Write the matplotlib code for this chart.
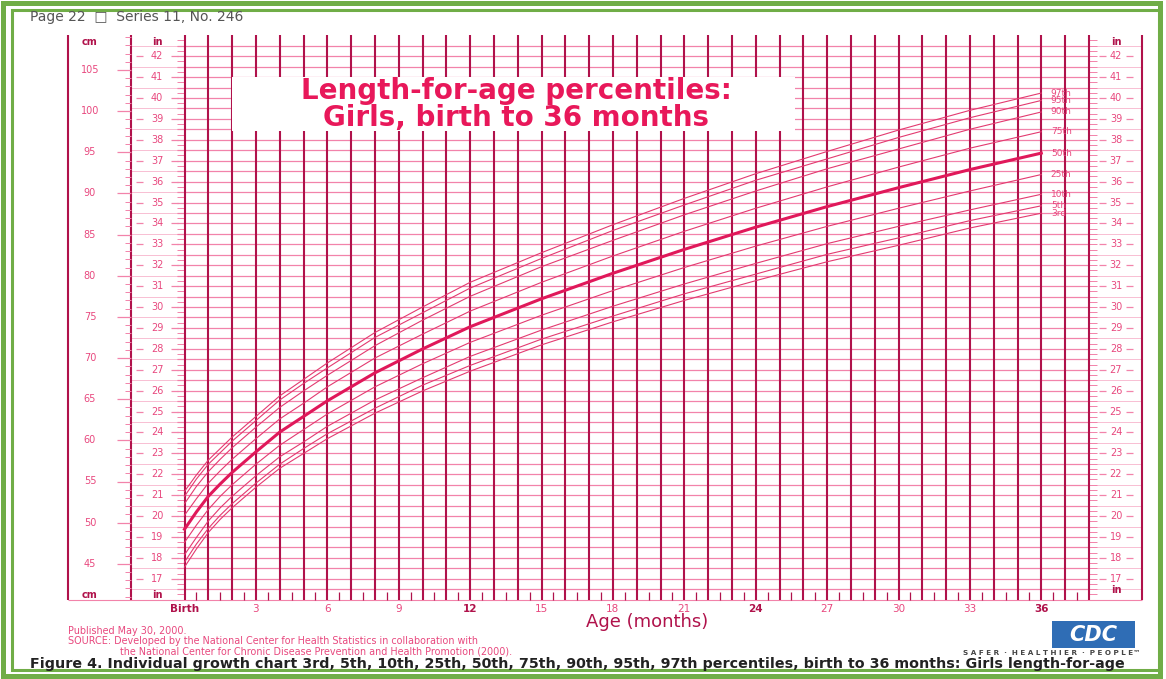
#!/usr/bin/env python3
# Length-for-age percentiles: Girls, birth to 36 months
import numpy as np
import matplotlib.pyplot as plt
from matplotlib.patches import Rectangle

# ages (months) and percentile curves (cm)
months = [0, 0.5, 1, 1.5, 2, 3, 4, 5, 6, 8, 10, 12, 15, 18, 21, 24, 27, 30, 33, 36]
p3 = [44.6, 46.8, 48.8, 50.4, 51.8, 54.3, 56.6, 58.4, 60.2, 63.3, 66.0, 68.4, 71.6, 74.4, 77.0, 79.4, 81.7, 83.7, 85.8, 87.6]
p5 = [45.2, 47.4, 49.3, 50.9, 52.3, 54.8, 57.1, 59.0, 60.8, 63.9, 66.7, 69.1, 72.3, 75.1, 77.8, 80.2, 82.6, 84.6, 86.7, 88.5]
p10 = [46.1, 48.2, 50.2, 51.8, 53.2, 55.7, 58.0, 59.8, 61.7, 64.9, 67.6, 70.2, 73.4, 76.3, 79.0, 81.5, 83.9, 86.0, 88.0, 89.9]
p25 = [47.6, 49.7, 51.6, 53.2, 54.6, 57.1, 59.4, 61.3, 63.2, 66.5, 69.3, 71.9, 75.2, 78.2, 81.0, 83.6, 86.0, 88.2, 90.3, 92.3]
p50 = [49.2, 51.3, 53.2, 54.7, 56.1, 58.6, 61.0, 62.9, 64.8, 68.2, 71.1, 73.8, 77.2, 80.3, 83.2, 85.9, 88.4, 90.7, 92.9, 94.9]
p75 = [50.9, 52.9, 54.8, 56.3, 57.7, 60.2, 62.6, 64.5, 66.5, 70.0, 72.9, 75.7, 79.2, 82.4, 85.4, 88.2, 90.8, 93.2, 95.5, 97.5]
p90 = [52.3, 54.4, 56.2, 57.7, 59.1, 61.6, 64.0, 66.0, 67.9, 71.5, 74.6, 77.5, 81.1, 84.3, 87.4, 90.3, 93.0, 95.4, 97.8, 99.9]
p95 = [53.2, 55.3, 57.1, 58.5, 59.9, 62.4, 64.9, 66.9, 68.8, 72.5, 75.5, 78.5, 82.1, 85.5, 88.6, 91.6, 94.2, 96.8, 99.2, 101.3]
p97 = [53.8, 55.8, 57.6, 59.0, 60.4, 62.9, 65.4, 67.4, 69.4, 73.1, 76.2, 79.2, 82.8, 86.2, 89.4, 92.4, 95.1, 97.7, 100.1, 102.2]

curves = [p3, p5, p10, p25, p50, p75, p90, p95, p97]
curve_names = ["3rd", "5th", "10th", "25th", "50th", "75th", "90th", "95th", "97th"]

month_ticks = [0, 3, 6, 9, 12, 15, 18, 21, 24, 27, 30, 33, 36]
month_labels = ["Birth", "3", "6", "9", "12", "15", "18", "21", "24", "27", "30", "33", "36"]
cm_labels = [45, 50, 55, 60, 65, 70, 75, 80, 85, 90, 95, 100, 105]
in_labels = list(range(17, 43))

VCOL = "#b0124b"
HCOL = "#f283aa"
CURVE = "#e33a70"
LAB = "#e8487e"
GREEN = "#70ad47"

W, H = 1166, 679
fig = plt.figure(figsize=(W / 100, H / 100), dpi=100)
ax = fig.add_axes([0, 0, 1, 1])


def mx(px):
    return (px - 184.5) / 23.8


def cy(py):
    return 105 - (py - 70) / 8.23


ax.set_xlim(mx(0), mx(W))
ax.set_ylim(cy(H), cy(0))
ax.axis("off")

top, bot = cy(35), cy(600)

# vertical grid, one line per month, plus column borders
ax.vlines(range(0, 39), bot, top, colors=VCOL, lw=1.5, zorder=2)
ax.vlines([mx(68), mx(131), mx(1142)], bot, top, colors=VCOL, lw=1.5, zorder=2)
ax.hlines(bot, mx(68), mx(1142), colors=HCOL, lw=0.8, zorder=1)

# horizontal grid every half inch
half_in = np.arange(16.5, 42.51, 0.5)
ax.hlines(half_in * 2.54, mx(177), 38, colors=HCOL, lw=0.9, zorder=1)
odd = half_in[half_in % 1 != 0] * 2.54
ax.hlines(odd, mx(131), mx(177), colors=HCOL, lw=0.6, alpha=0.6, zorder=1)
ax.hlines(odd, 38, mx(1142), colors=HCOL, lw=0.6, alpha=0.6, zorder=1)

# quarter inch ticks next to the plot
q_in = np.arange(16.25, 42.8, 0.25) * 2.54
ax.hlines(q_in, mx(177), 0, colors=HCOL, lw=0.7, zorder=1)
ax.hlines(q_in, 38, mx(1097), colors=HCOL, lw=0.7, zorder=1)

# cm ticks
cms = np.arange(41, 110)
minor = cms[cms % 5 != 0]
major = cms[cms % 5 == 0]
ax.hlines(minor, mx(125), mx(131), colors=HCOL, lw=0.7)
ax.hlines(major, mx(117), mx(131), colors=HCOL, lw=0.9)

# inch labels with dashes
inch_cm = np.array(in_labels) * 2.54
for a, b in [(136, 143), (171, 178), (1099, 1106), (1126, 1133)]:
    ax.hlines(inch_cm, mx(a), mx(b), colors=HCOL, lw=0.9)
for v, c in zip(in_labels, inch_cm):
    ax.text(mx(157), c, str(v), ha="center", va="center", fontsize=7, color=LAB)
    ax.text(mx(1116), c, str(v), ha="center", va="center", fontsize=7, color=LAB)
for v in cm_labels:
    ax.text(mx(90), v, str(v), ha="center", va="center", fontsize=7, color=LAB)

for x, y, s in [(90, 42, "cm"), (157, 42, "in"), (1116, 42, "in"),
                (90, 595, "cm"), (157, 595, "in"), (1116, 590, "in")]:
    ax.text(mx(x), cy(y), s, ha="center", va="center", fontsize=7,
            color=VCOL, fontweight="bold")

# half month ticks at the bottom
ax.vlines(np.arange(0.5, 38, 1), bot, cy(592), colors=VCOL, lw=0.9)

# percentile curves
for vals, name in zip(curves, curve_names):
    lw = 2.2 if name == "50th" else 0.8
    col = "#e0185a" if name == "50th" else CURVE
    ax.plot(months, vals, color=col, lw=lw, zorder=4)
    ax.text(36.4, vals[-1], name, ha="left", va="center", fontsize=6.5,
            color=LAB, zorder=5)

# month labels
for m, s in zip(month_ticks, month_labels):
    bold = s in ("Birth", "12", "24", "36")
    ax.text(m, cy(609), s, ha="center", va="center", fontsize=7.5,
            color=VCOL if bold else LAB, fontweight="bold" if bold else "normal")
ax.text(mx(647), cy(622), "Age (months)", ha="center", va="center",
        fontsize=13, color=VCOL)

# title box
ax.add_patch(Rectangle((mx(232), cy(131)), mx(795) - mx(232), cy(77) - cy(131),
                       facecolor="white", edgecolor="none", zorder=6))
ax.text(mx(516), cy(91), "Length-for-age percentiles:", ha="center", va="center",
        fontsize=20, fontweight="heavy", color="#e8185a", zorder=7)
ax.text(mx(516), cy(118), "Girls, birth to 36 months", ha="center", va="center",
        fontsize=20, fontweight="heavy", color="#e8185a", zorder=7)

# page texts
fig.text(30 / W, 1 - 17 / H, "Page 22  \u25a1  Series 11, No. 246", fontsize=10,
         color="#555555", va="center")
fig.text(68 / W, 1 - 631 / H, "Published May 30, 2000.", fontsize=6.9,
         color=LAB, va="center")
fig.text(68 / W, 1 - 641 / H,
         "SOURCE: Developed by the National Center for Health Statistics in collaboration with",
         fontsize=6.9, color=LAB, va="center")
fig.text(120 / W, 1 - 651 / H,
         "the National Center for Chronic Disease Prevention and Health Promotion (2000).",
         fontsize=6.9, color=LAB, va="center")
fig.text(30 / W, 1 - 664 / H,
         "Figure 4. Individual growth chart 3rd, 5th, 10th, 25th, 50th, 75th, 90th, 95th, "
         "97th percentiles, birth to 36 months: Girls length-for-age",
         fontsize=10.3, fontweight="bold", color="#222222", va="center")

# CDC logo
fig.patches.append(Rectangle((1052 / W, 1 - 648 / H), 83 / W, 27 / H,
                             transform=fig.transFigure, facecolor="#2f6db5",
                             edgecolor="none"))
fig.text(1093 / W, 1 - 635 / H, "CDC", fontsize=15, fontweight="bold",
         style="italic", color="white", ha="center", va="center")
fig.text(1140 / W, 1 - 653 / H, "S A F E R  \u00b7  H E A L T H I E R  \u00b7  P E O P L E\u2122",
         fontsize=5.2, fontweight="bold", color="#444444", ha="right", va="center")

# green frame
fig.patches.append(Rectangle((2.5 / W, 3 / H), 1157 / W, 673 / H,
                             transform=fig.transFigure, fill=False,
                             edgecolor=GREEN, lw=3.6))
fig.patches.append(Rectangle((12 / W, 9 / H), 1147 / W, 660 / H,
                             transform=fig.transFigure, fill=False,
                             edgecolor=GREEN, lw=2.2))

plt.savefig("out.png", dpi=100)
